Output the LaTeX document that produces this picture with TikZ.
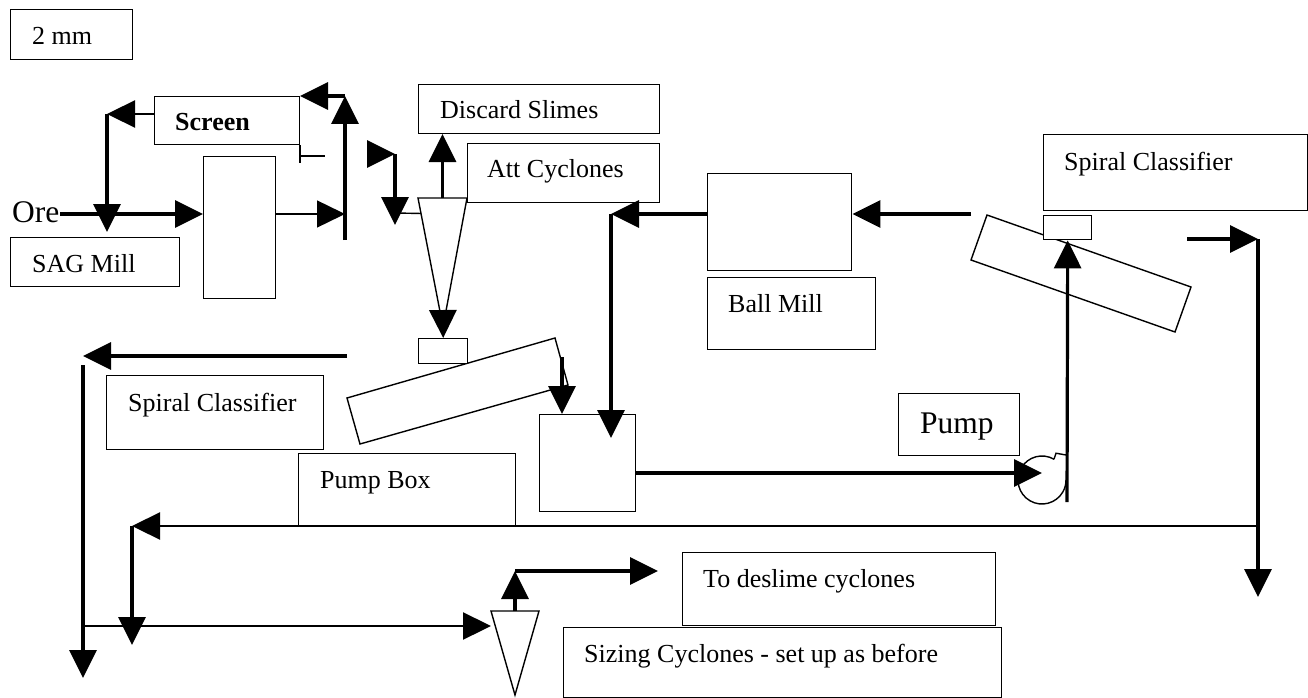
\documentclass[tikz,border=0pt]{standalone}
\usepackage{fontspec}
\setmainfont{Liberation Serif}
\usetikzlibrary{arrows.meta, calc}

\begin{document}
\begin{tikzpicture}[x=1pt, y=-1pt,
	>={Triangle[length=28pt, width=27pt]},
	flow/.style={line width=3.2pt},
	midflow/.style={line width=2.3pt},
	pipe/.style={line width=1.4pt},
	unit/.style={draw, line width=1.4pt, inner sep=0pt, anchor=north west},
	tag/.style={draw, line width=1pt, inner sep=0pt, anchor=north west},
	txt/.style={inner sep=0pt, anchor=base west, font=\fontsize{26}{30}\selectfont},
	bigtxt/.style={inner sep=0pt, anchor=base west, font=\fontsize{31.5}{36}\selectfont}]
	
	\useasboundingbox (0,0) rectangle (1308,698);
	
	% Label boxes
	\node[tag, minimum width=122pt, minimum height=50pt] (size) at (10,9) {};
	\node[txt] (size-t) at (32,45) {2 mm};
	\node[tag, minimum width=145pt, minimum height=48pt] (screen) at (154,96) {};
	\node[txt, font=\fontsize{26}{30}\selectfont\bfseries] (screen-t) at (175,131) {Screen};
	\node[tag, minimum width=169pt, minimum height=49pt] (sag-tag) at (10,237) {};
	\node[txt] (sag-t) at (32,272) {SAG Mill};
	\node[tag, minimum width=241pt, minimum height=49pt] (discard) at (418,84) {};
	\node[txt] (discard-t) at (440,119) {Discard Slimes};
	\node[tag, minimum width=192pt, minimum height=59pt] (att-tag) at (467,143) {};
	\node[txt] (att-t) at (487,177) {Att Cyclones};
	\node[tag, minimum width=168pt, minimum height=72pt] (ball-tag) at (707,277) {};
	\node[txt] (ball-t) at (728,312) {Ball Mill};
	\node[tag, minimum width=264pt, minimum height=76pt] (rc-tag) at (1043,134) {};
	\node[txt] (rc-t) at (1064,170) {Spiral Classifier};
	\node[tag, minimum width=217pt, minimum height=74pt] (lc-tag) at (106,375) {};
	\node[txt] (lc-t) at (128,411) {Spiral Classifier};
	\node[tag, minimum width=217pt, minimum height=73pt] (pbox-tag) at (298,453) {};
	\node[txt] (pbox-t) at (320,488) {Pump Box};
	\node[tag, minimum width=121pt, minimum height=62pt] (pump-tag) at (898,393) {};
	\node[bigtxt] (pump-t) at (920,433) {Pump};
	\node[tag, minimum width=313pt, minimum height=73pt] (deslime) at (682,552) {};
	\node[txt] (deslime-t) at (703,587) {To deslime cyclones};
	\node[tag, minimum width=438pt, minimum height=70pt] (sizing) at (563,627) {};
	\node[txt] (sizing-t) at (584,662) {Sizing Cyclones - set up as before};
	
	% Equipment
	\node[unit, minimum width=72pt, minimum height=142pt] (sag) at (203,156) {};
	\node[unit, minimum width=144pt, minimum height=97pt] (bmill) at (707,173) {};
	\node[unit, minimum width=96pt, minimum height=97pt] (pbox) at (539,414) {};
	\coordinate (att-l) at (418,198);
	\coordinate (att-r) at (467,198);
	\coordinate (att-tip) at (443,327);
	\draw[pipe] (att-l) -- (att-r) -- (att-tip) -- cycle;
	\draw[pipe] (347,398) -- (555,338) -- (568,385) -- (360,444) -- cycle;
	\node[unit, fill=white, minimum width=49pt, minimum height=25pt] (att-box) at (418,338) {};
	\draw[pipe] (987,215) -- (1191,287) -- (1175,332) -- (971,260) -- cycle;
	\node[unit, fill=white, minimum width=48pt, minimum height=24pt] (rc-box) at (1043,215) {};
	\coordinate (sz-l) at (491,611);
	\coordinate (sz-r) at (539,611);
	\coordinate (sz-tip) at (515,695);
	\draw[pipe] (sz-l) -- (sz-r) -- (sz-tip) -- cycle;
	\coordinate (pump) at (1042,480);
	\draw[pipe] (pump) ++(-60:24) arc[start angle=-60, end angle=-360, radius=24];
	\draw[pipe] ($(pump)+(-60:24)$) -- ++(2,-6) -- (1066,455);
	
	% Ore feed, SAG mill discharge and screen
	\node[bigtxt] (ore) at (12,222) {Ore};
	\coordinate (ore-in) at (60,214);
	\draw[->, flow] (ore-in) -- (sag.west |- ore-in);
	\coordinate (lift-bot) at (345,240);
	\coordinate (lift-top) at (345,96);
	\draw[->, pipe] (sag.east |- ore-in) -- (lift-bot |- ore-in);
	\draw[->, flow] (lift-bot) -- (lift-top);
	\draw[->, flow] (lift-top) -- (screen.north east);
	\coordinate (ret) at (107,114);
	\coordinate (ret-end) at (107,232);
	\draw[->, midflow] (screen.west |- ret) -- (ret);
	\draw[->, flow] (ret) -- (ret-end);
	\draw[pipe] (screen.south east) -- ++(0,18);
	\draw[pipe] ($(screen.south east)+(0,11)$) -- ++(25,0);
	
	% Att cyclones
	\coordinate (feed-a) at (367,154);
	\coordinate (feed-b) at (395,154);
	\coordinate (feed-c) at (395,225);
	\draw[->, flow] (feed-a) -- (feed-b);
	\draw[->, flow] (feed-b) -- (feed-c);
	\draw[pipe] (395,213) -- ($(att-l)!0.12!(att-tip)$);
	\coordinate (att-top) at ($(att-l)!0.5!(att-r)$);
	\draw[->, flow] (att-top) -- (att-top |- discard.south);
	\draw[->, flow] ($(att-top)!0.9!(att-tip)$) -- (att-box.north);
	
	% Left spiral classifier
	\coordinate (lc-ovf) at (347,356);
	\coordinate (lc-turn) at (83,356);
	\coordinate (lc-end) at (83,678);
	\draw[->, flow] (lc-ovf) -- (lc-turn);
	\draw[->, flow] (83,365) -- (lc-end);
	\coordinate (lc-sand) at (562,357);
	\draw[->, flow] (lc-sand) -- (lc-sand |- pbox.north);
	
	% Ball mill circuit
	\coordinate (bm-out) at (707,214);
	\coordinate (bm-turn) at (611,214);
	\coordinate (bm-end) at (611,438);
	\draw[->, flow] (bm-out) -- (bm-turn);
	\draw[->, flow] (bm-turn) -- (bm-end);
	\coordinate (rc-sand) at (971,214);
	\draw[->, flow] (rc-sand) -- (bmill.east |- rc-sand);
	\coordinate (pump-in) at (1042,473);
	\draw[->, flow] (pbox.east |- pump-in) -- (pump-in);
	\coordinate (pump-out) at (1067,502);
	\draw[->, flow] (pump-out) -- (rc-box.south);
	
	% Right spiral classifier overflow and return
	\coordinate (rc-ovf) at (1187,239);
	\coordinate (rc-turn) at (1258,239);
	\coordinate (rc-end) at (1258,597);
	\draw[->, flow] (rc-ovf) -- (rc-turn);
	\draw[->, flow] (rc-turn) -- (rc-end);
	\coordinate (back) at (132,526);
	\coordinate (back-end) at (132,645);
	\draw[->, midflow] (rc-turn |- back) -- (back);
	\draw[->, flow] (back) -- (back-end);
	
	% Sizing cyclones
	\coordinate (sz-feed) at (83,626);
	\draw[->, midflow] (sz-feed) -- (sz-l |- sz-feed);
	\coordinate (sz-top) at ($(sz-l)!0.5!(sz-r)$);
	\coordinate (sz-up) at (515,571);
	\coordinate (sz-out) at (658,571);
	\draw[->, flow] (sz-top) -- (sz-up);
	\draw[->, flow] (sz-up) -- (sz-out);
	
\end{tikzpicture}
\end{document}
